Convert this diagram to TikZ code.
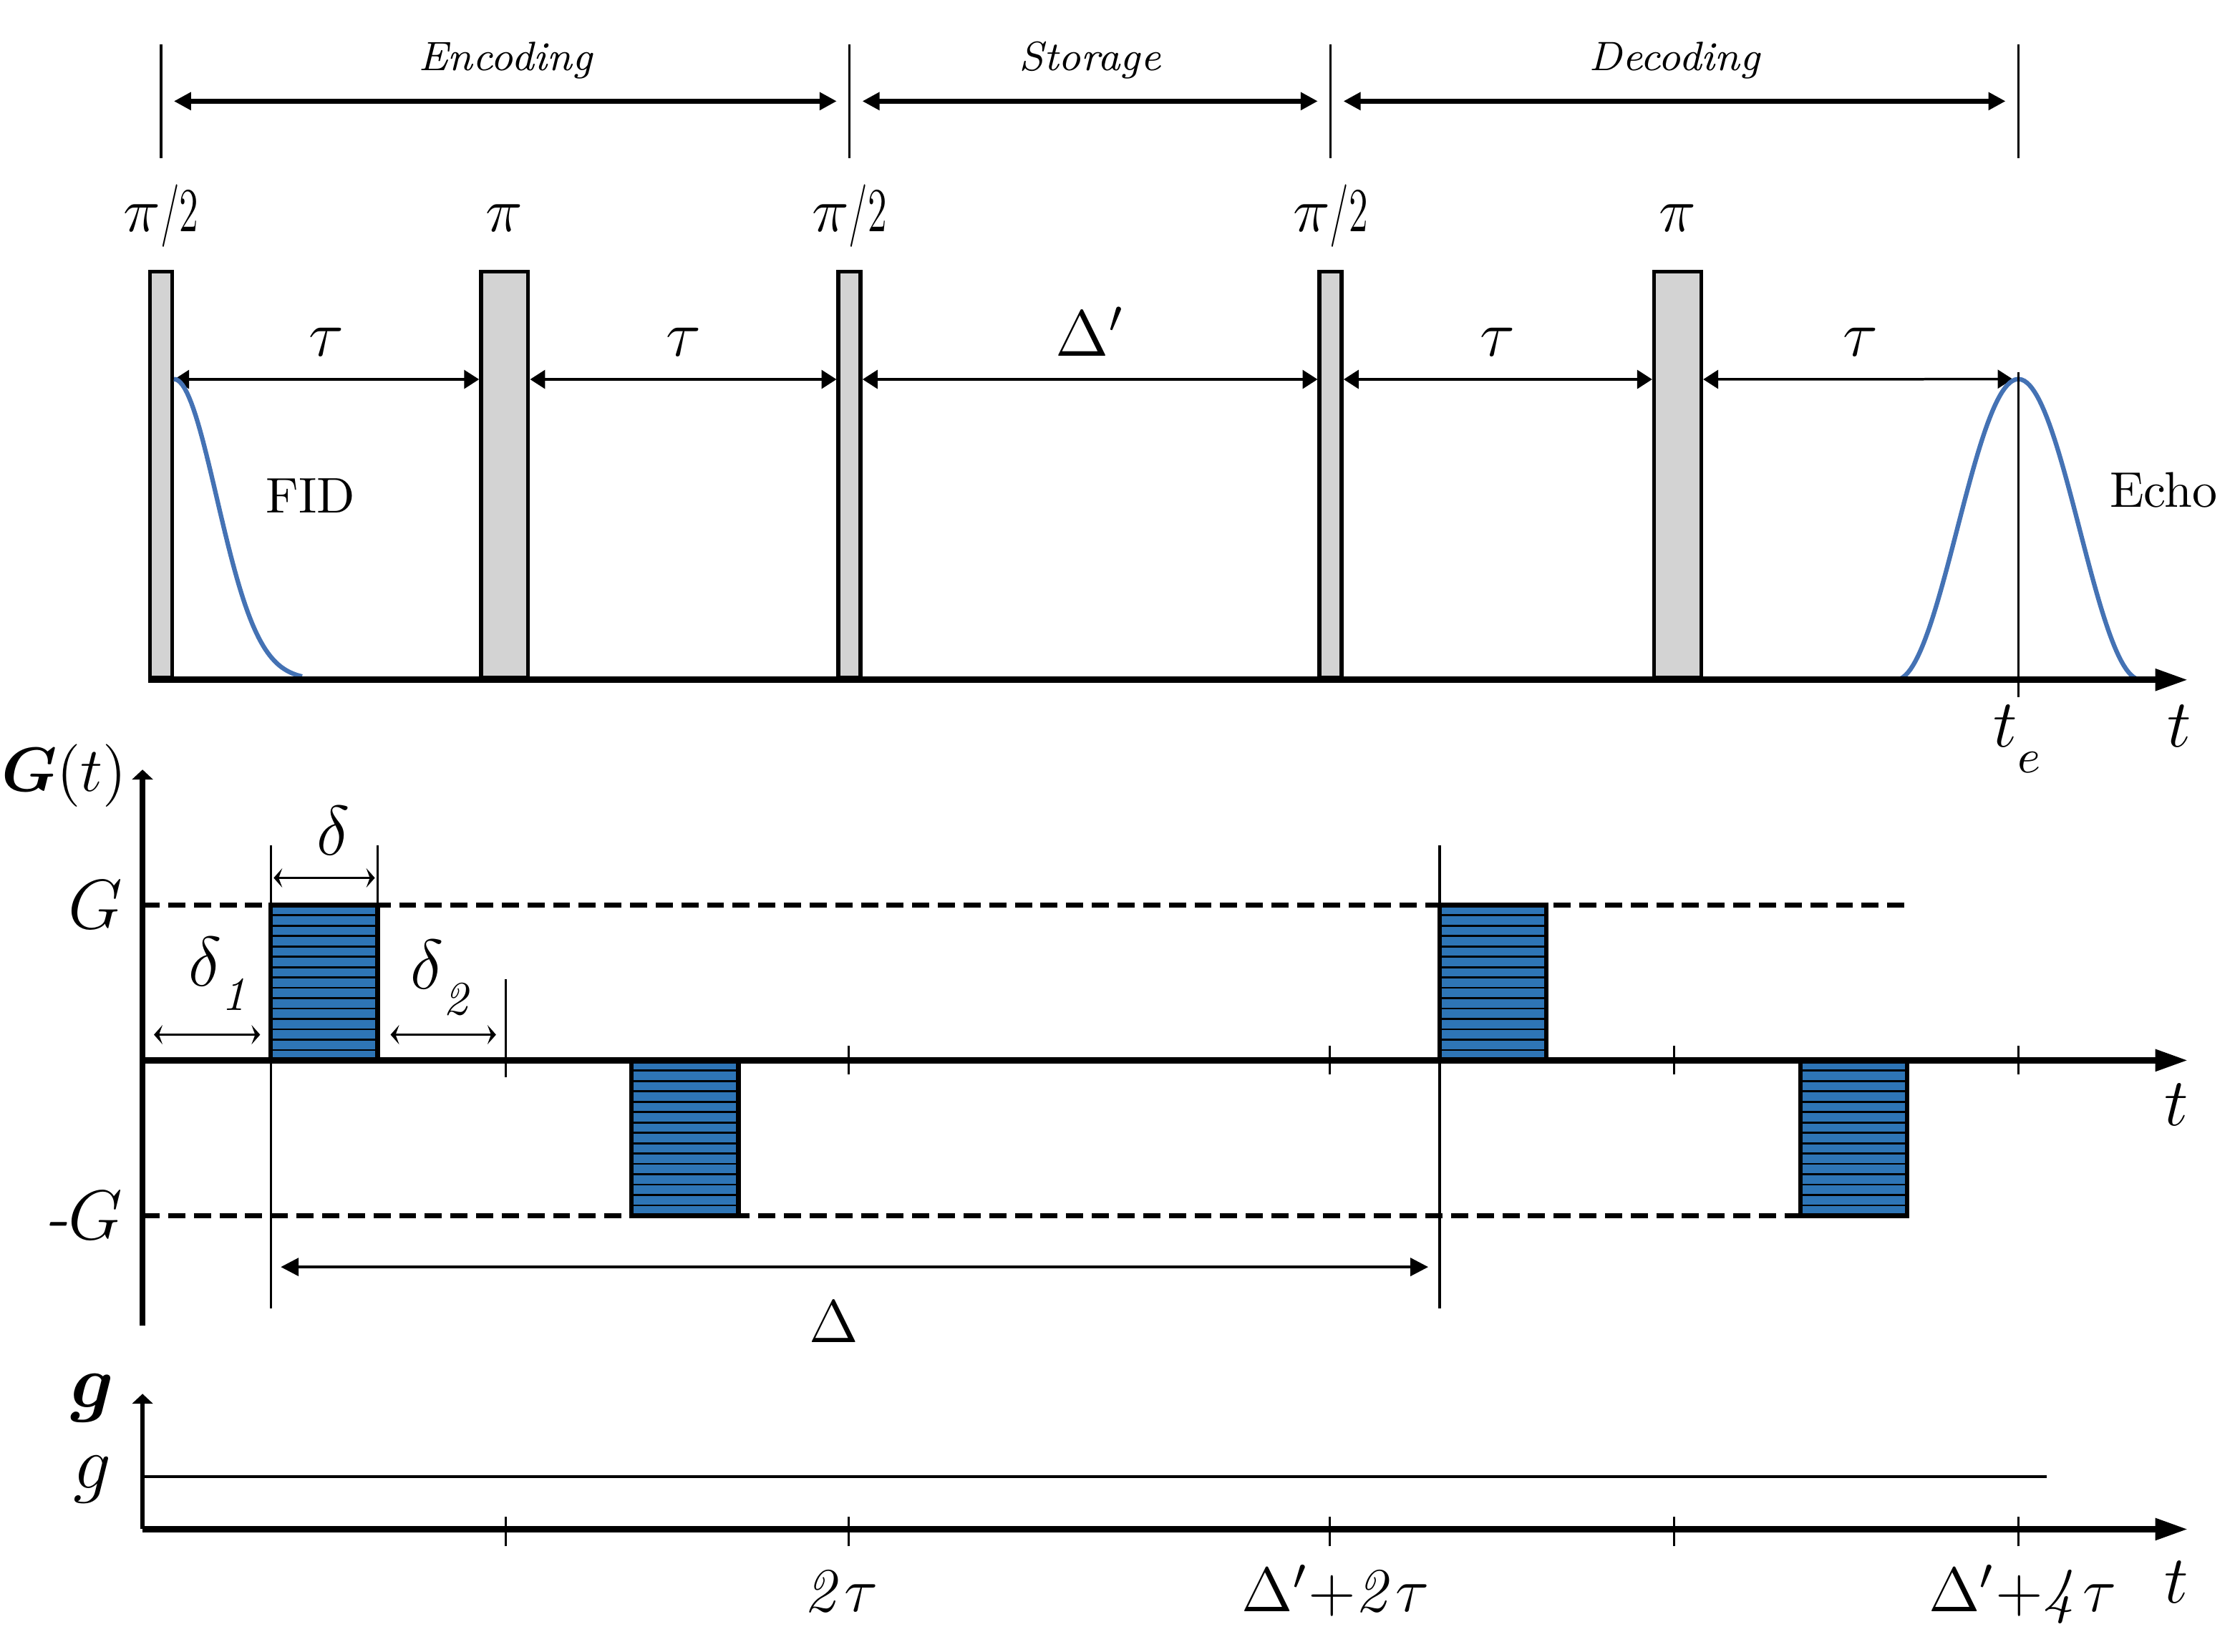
\RequirePackage{fix-cm}
\documentclass[tikz,border=0pt]{standalone}
\usepackage{amsmath}
\usepackage{graphicx}
\usetikzlibrary{arrows.meta}
\definecolor{pulsegray}{RGB}{211,211,211}
\definecolor{signalblue}{RGB}{68,114,180}
\definecolor{gradblue}{RGB}{46,117,182}

\begin{document}
\begin{tikzpicture}[
    axis/.style={line width=1.3pt,-{Triangle[length=2.3mm,width=1.45mm]}},
    yaxis/.style={line width=1.2pt,-{Triangle[length=0.7mm,width=1.45mm]}},
    pulse/.style={draw,line width=0.8pt,fill=pulsegray,minimum height=2.85cm,inner sep=0pt,anchor=south},
    guide/.style={line width=0.45pt},
    phase/.style={line width=0.9pt,>={Triangle[length=1.2mm,width=1.2mm]},<->,shorten <=0.09cm,shorten >=0.09cm},
    span/.style={line width=0.5pt,>={Triangle[length=1.05mm,width=1.3mm]},<->},
    small/.style={line width=0.45pt,>={Stealth[length=0.6mm,width=1.35mm,inset=0.25mm]},<->},
    level/.style={line width=1pt,dash pattern=on 1.2mm off 0.6mm},
    signal/.style={signalblue,line width=0.9pt},
    phasefont/.style={font=\fontsize{8.2}{10}\selectfont\itshape},
    plabel/.style={font=\fontsize{12.5}{15}\selectfont},
    tlabel/.style={font=\fontsize{13}{15}\selectfont},
    sigfont/.style={font=\fontsize{10}{12}\selectfont},
    glabel/.style={font=\fontsize{14}{17}\selectfont},
    blabel/.style={font=\fontsize{12.5}{15}\selectfont},
    axlabel/.style={font=\fontsize{13.5}{16}\selectfont}
  ]
  \useasboundingbox (-1,-0.86) rectangle (14.68,10.73);

  % phases
  \foreach \n/\x in {0/0.13,1/4.96,2/8.335,3/13.16}{
    \coordinate (ph\n) at (\x,10.02);
    \draw[guide] (\x,10.42) -- (\x,9.62);
  }
  \draw[phase] (ph0) -- node[above=0.7pt,phasefont]{Encoding} (ph1);
  \draw[phase] (ph1) -- node[above=0.7pt,phasefont]{Storage} (ph2);
  \draw[phase] (ph2) -- node[above=0.7pt,phasefont]{Decoding} (ph3);

  % rf pulses
  \node[pulse,minimum width=0.155cm] (p1) at (0.13,5.96) {};
  \node[pulse,minimum width=0.33cm] (p2) at (2.54,5.96) {};
  \node[pulse,minimum width=0.155cm] (p3) at (4.96,5.96) {};
  \node[pulse,minimum width=0.155cm] (p4) at (8.335,5.96) {};
  \node[pulse,minimum width=0.33cm] (p5) at (10.77,5.96) {};
  \node[plabel,anchor=base] (l1) at ([yshift=0.265cm]p1.north) {$\pi$\scalebox{0.62}[1]{/2}};
  \node[plabel,anchor=base] (l2) at ([yshift=0.265cm]p2.north) {$\pi$};
  \node[plabel,anchor=base] (l3) at ([yshift=0.265cm]p3.north) {$\pi$\scalebox{0.62}[1]{/2}};
  \node[plabel,anchor=base] (l4) at ([yshift=0.265cm]p4.north) {$\pi$\scalebox{0.62}[1]{/2}};
  \node[plabel,anchor=base] (l5) at ([yshift=0.265cm]p5.north) {$\pi$};

  \coordinate (te) at (13.16,8.07);
  \coordinate (tetop) at (13.16,8.12);
  \coordinate (tebot) at (13.16,5.84);
  \draw[span] ([yshift=-0.77cm]p1.north east) -- node[above=1pt,tlabel]{$\tau$} ([yshift=-0.77cm]p2.north west);
  \draw[span] ([yshift=-0.77cm]p2.north east) -- node[above=1pt,tlabel]{$\tau$} ([yshift=-0.77cm]p3.north west);
  \draw[span] ([yshift=-0.77cm]p3.north east) -- node[above=1pt,tlabel]{$\Delta'$} ([yshift=-0.77cm]p4.north west);
  \draw[span] ([yshift=-0.77cm]p4.north east) -- node[above=1pt,tlabel]{$\tau$} ([yshift=-0.77cm]p5.north west);
  \draw[span,shorten >=0.04cm] ([yshift=-0.77cm]p5.north east) -- node[above=1pt,tlabel]{$\tau$} (te);

  % signals
  \draw[signal] plot[domain=0.22:1.12,samples=60] (\x,{5.96+2.11*exp(-((\x-0.22)^2)/0.18)});
  \draw[signal] plot[domain=12.30:14.02,samples=100] (\x,{5.96+1.055*(1+cos(180*(\x-13.16)/0.86))});
  \draw[guide] (tetop) -- (tebot);
  \node[sigfont,anchor=base] (fid) at (1.18,7.13) {FID};
  \node[sigfont,anchor=base] (echo) at (14.18,7.17) {Echo};

  \coordinate (o1) at (0.04,5.96);
  \coordinate (x1) at (14.35,5.96);
  \draw[axis] (o1) -- (x1);
  \node[axlabel,anchor=base] (tt1) at (14.29,5.49) {$t$};
  \node[axlabel,anchor=base] (tte) at (13.15,5.49) {$t$\raisebox{-0.18cm}{\fontsize{9.5}{11}\selectfont$e$}};

  % gradient
  \draw[level] (0,4.38) -- (12.38,4.38);
  \draw[level] (0,2.20) -- (12.38,2.20);
  \foreach \xa/\ya in {0.90/3.29,3.43/2.20,9.10/3.29,11.63/2.20}{
    \fill[gradblue] (\xa,\ya) rectangle ++(0.75,1.09);
    \foreach \k in {1,...,14}
      \draw[line width=0.4pt] (\xa,{\ya+\k*0.0727}) -- ++(0.75,0);
    \draw[line width=0.9pt] (\xa,\ya) rectangle ++(0.75,1.09);
  }
  \draw[guide] (0.90,4.80) -- (0.90,1.55);
  \draw[guide] (1.65,4.80) -- (1.65,4.38);
  \draw[guide] (9.10,4.80) -- (9.10,1.55);
  \draw[guide] (2.55,3.86) -- (2.55,3.17);
  \foreach \x in {4.955,8.33,10.745,13.16}
    \draw[guide] (\x,3.19) -- (\x,3.39);

  \coordinate (g0) at (0,1.43);
  \coordinate (g1) at (0,5.33);
  \coordinate (h0) at (0,3.29);
  \coordinate (h1) at (14.35,3.29);
  \draw[yaxis] (g0) -- (g1);
  \draw[axis] (h0) -- (h1);

  \coordinate (a0) at (0,3.47);
  \coordinate (a1) at (0.90,3.47);
  \coordinate (a2) at (1.65,3.47);
  \coordinate (a3) at (2.55,3.47);
  \coordinate (b1) at (0.90,4.57);
  \coordinate (b2) at (1.65,4.57);
  \coordinate (c1) at (0.90,1.84);
  \coordinate (c2) at (9.10,1.84);
  \draw[small,shorten <=0.08cm,shorten >=0.075cm] (a0) -- (a1);
  \draw[small,shorten <=0.09cm,shorten >=0.07cm] (a2) -- (a3);
  \draw[small,shorten <=0.02cm,shorten >=0.02cm] (b1) -- (b2);
  \draw[span,line width=0.55pt,>={Triangle[length=1.25mm,width=1.25mm]},shorten <=0.07cm,shorten >=0.08cm] (c1) -- (c2);

  \node[font=\fontsize{12.5}{15}\selectfont,anchor=base] (gt) at (-0.55,5.18) {$\boldsymbol{G}(t)$};
  \node[glabel] (gp) at (-0.33,4.38) {$G$};
  \node[glabel] (gm) at (-0.415,2.20) {\textit{-}$G$};
  \node[glabel,anchor=base] (d) at (1.34,4.73) {$\delta$};
  \node[glabel,anchor=base] (d1) at (0.525,3.81) {$\delta$\raisebox{-0.17cm}{\fontsize{9.5}{11}\selectfont\itshape 1}};
  \node[glabel,anchor=base] (d2) at (2.08,3.79) {$\delta$\raisebox{-0.18cm}{\fontsize{9.5}{11}\selectfont\itshape 2}};
  \node[font=\fontsize{12}{14}\selectfont,anchor=base] (D) at (4.85,1.31) {$\Delta$};
  \node[axlabel,anchor=base] (tt2) at (14.27,2.83) {$t$};

  % constant gradient g
  \coordinate (k0) at (0,0);
  \coordinate (k1) at (0,0.95);
  \coordinate (m0) at (0,0);
  \coordinate (m1) at (14.35,0);
  \draw[line width=0.65pt] (0,0.37) -- (13.36,0.37);
  \foreach \x in {2.55,4.955,8.33,10.745,13.16}
    \draw[guide] (\x,-0.12) -- (\x,0.09);
  \draw[yaxis,line width=0.9pt] (k0) -- (k1);
  \draw[axis] (m0) -- (m1);

  \node[font=\fontsize{15}{18}\selectfont,anchor=base] (gb) at (-0.35,0.855) {$\boldsymbol{g}$};
  \node[font=\fontsize{15}{18}\selectfont,anchor=base] (gi) at (-0.35,0.285) {$g$};
  \node[blabel,anchor=base] (x2t) at (4.90,-0.58) {$\mathit{2}\tau$};
  \node[blabel,anchor=base] (xd2) at (8.37,-0.58) {$\Delta'{+}\mathit{2}\tau$};
  \node[blabel,anchor=base] (xd4) at (13.19,-0.58) {$\Delta'{+}\mathit{4}\tau$};
  \node[axlabel,anchor=base] (tt3) at (14.27,-0.52) {$t$};
\end{tikzpicture}
\end{document}
